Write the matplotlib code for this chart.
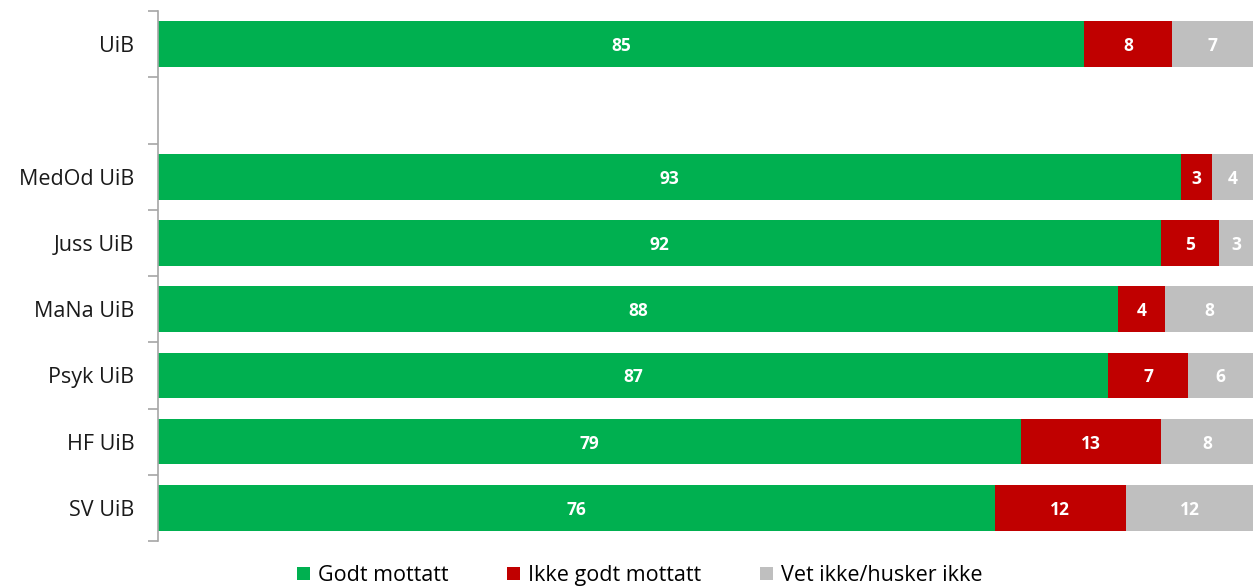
import numpy as np
from matplotlib import pyplot as plt

plt.rcParams['font.family'] = ['Open Sans', 'DejaVu Sans']

categories = ['UiB', '', 'MedOd UiB', 'Juss UiB', 'MaNa UiB', 'Psyk UiB', 'HF UiB', 'SV UiB']
godt = [84.6, np.nan, 93.4, 91.6, 87.7, 86.8, 78.8, 76.4]
ikke_godt = [8.0, np.nan, 2.9, 5.3, 4.3, 7.3, 12.8, 12.0]
vet_ikke = [7.4, np.nan, 3.7, 3.1, 8.0, 5.9, 8.4, 11.6]

series = [('Godt mottatt', godt, '#00B050'),
          ('Ikke godt mottatt', ikke_godt, '#C00000'),
          ('Vet ikke/husker ikke', vet_ikke, '#BFBFBF')]

fig = plt.figure(figsize=(12.58, 5.88), dpi=100)
ax = fig.add_axes([0.1256, 0.080, 0.8704, 0.901])

y = np.arange(len(categories))
left = np.zeros(len(categories))
for name, vals, color in series:
    vals = np.array(vals, dtype=float)
    ax.barh(y, np.nan_to_num(vals), left=left, height=0.69, color=color,
            label=name, edgecolor='none')
    # value labels in the middle of each segment
    for yi, (l, v) in enumerate(zip(left, vals)):
        if not np.isnan(v):
            ax.text(l + v / 2, yi + 0.03, f'{v:.0f}', ha='center', va='center',
                    color='white', fontsize=12.5, fontweight='bold')
    left = left + np.nan_to_num(vals)

ax.set_xlim(0, 100)
ax.set_ylim(len(categories) - 0.5, -0.5)
ax.set_yticks(y)
ax.set_yticklabels(categories, fontsize=15.5, color='#1a1a1a')
ax.tick_params(axis='y', which='major', length=0, pad=17)
# tick marks between the categories
ax.set_yticks(np.arange(-0.5, len(categories)), minor=True)
ax.tick_params(axis='y', which='minor', length=7, color='#A6A6A6', width=1.2)
ax.set_xticks([])
for side in ['top', 'right', 'bottom']:
    ax.spines[side].set_visible(False)
ax.spines['left'].set_color('#A6A6A6')
ax.spines['left'].set_linewidth(1.2)

ax.legend(loc='lower center', bbox_to_anchor=(0.44, -0.122), ncol=3,
          frameon=False, fontsize=15.5, handlelength=0.6, handleheight=0.6,
          handletextpad=0.4, columnspacing=2.7)

fig.savefig('out.png', dpi=100)
